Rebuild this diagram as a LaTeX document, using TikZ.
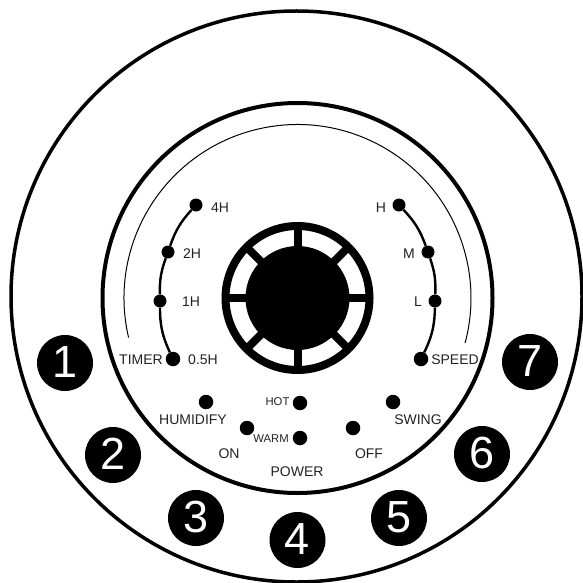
\documentclass[tikz,border=0pt]{standalone}
\usepackage{fontspec}
\setmainfont{Liberation Sans}
\definecolor{labelgray}{HTML}{222222}
\tikzset{
    dot/.style={circle, fill=black, inner sep=0pt, minimum size=14.5pt},
    smalldot/.style={circle, fill=black, inner sep=0pt, minimum size=13pt},
    numbadge/.style={circle, fill=black, text=white, inner sep=0pt, minimum size=56pt, text height=28pt, text depth=0pt, font=\fontsize{45}{45}\selectfont},
    lbl/.style={inner sep=0pt, text=labelgray, font=\fontsize{14}{14}\selectfont},
    smalllbl/.style={inner sep=0pt, text=labelgray, font=\fontsize{11.3}{11.3}\selectfont},
    track/.style={line width=2.4pt}
}
\begin{document}
\begin{tikzpicture}[x=1pt, y=-1pt]
    \useasboundingbox (0, 0) rectangle (583, 583);

    % rings
    \draw[line width=3.5pt] (296.5, 296.5) circle [radius=285.5];
    \draw[line width=4pt] (297.5, 298) circle [radius=195];
    \draw[line width=1pt] ([shift={(166.8:173.5)}]297.5, 298) arc [start angle=166.8, end angle=375, radius=173.5];

    % knob
    \draw[line width=8pt] (297.5, 298) circle [radius=72];
    \foreach \a in {0, 45, ..., 315} {
        \draw[line width=8pt] (297.5, 298) -- ++(\a:72);
    }
    \node[circle, fill=black, inner sep=0pt, minimum size=104pt] (knob) at (297.5, 298) {};

    % timer
    \node[smalldot] (t4) at (196, 205) {};
    \node[smalldot] (t2) at (168, 252) {};
    \node[smalldot] (t1) at (160, 301) {};
    \node[dot] (t05) at (173, 359) {};
    \draw[track] (t4) to[bend right=11.5] (t2);
    \draw[track] (t2) to[bend right=10.5] (t1);
    \draw[track] (t1) to[bend right=12.5] (t05);
    \node[lbl] (l4h) at (220, 208) {4H};
    \node[lbl] (l2h) at (192, 254) {2H};
    \node[lbl] (l1h) at (191, 302) {1H};
    \node[lbl] (l05h) at (203, 360) {0.5H};
    \node[lbl] (ltimer) at (141, 360) {TIMER};

    % speed
    \node[smalldot] (sh) at (399, 205) {};
    \node[smalldot] (sm) at (428, 252) {};
    \node[smalldot] (sl) at (435, 301) {};
    \node[dot] (ss) at (421, 359) {};
    \draw[track] (sh) to[bend left=11.5] (sm);
    \draw[track] (sm) to[bend left=10.5] (sl);
    \draw[track] (sl) to[bend left=12.5] (ss);
    \node[lbl] (lh) at (381, 208) {H};
    \node[lbl] (lm) at (409, 254) {M};
    \node[lbl] (ll) at (418, 302) {L};
    \node[lbl] (lspeed) at (455, 360) {SPEED};

    % lower switches
    \node[dot] (humidify) at (206, 402) {};
    \node[dot] (on) at (247, 428) {};
    \node[dot] (hot) at (300, 403) {};
    \node[dot] (warm) at (300, 438) {};
    \node[dot] (off) at (353, 428) {};
    \node[dot] (swing) at (393, 402) {};
    \node[lbl] (lhumidify) at (193, 420) {HUMIDIFY};
    \node[lbl] (lon) at (229, 454) {ON};
    \node[smalllbl] (lhot) at (277.5, 402) {HOT};
    \node[smalllbl] (lwarm) at (271, 439) {WARM};
    \node[lbl] (lpower) at (297, 472) {POWER};
    \node[lbl] (loff) at (369, 454) {OFF};
    \node[lbl] (lswing) at (418, 420) {SWING};

    % numbers
    \node[numbadge] (n1) at (65, 363) {1};
    \node[numbadge] (n2) at (113, 455) {2};
    \node[numbadge] (n3) at (196, 518) {3};
    \node[numbadge] (n4) at (297.5, 540) {4};
    \node[numbadge] (n5) at (399, 518) {5};
    \node[numbadge] (n6) at (482, 454) {6};
    \node[numbadge] (n7) at (530, 362) {7};
\end{tikzpicture}
\end{document}
